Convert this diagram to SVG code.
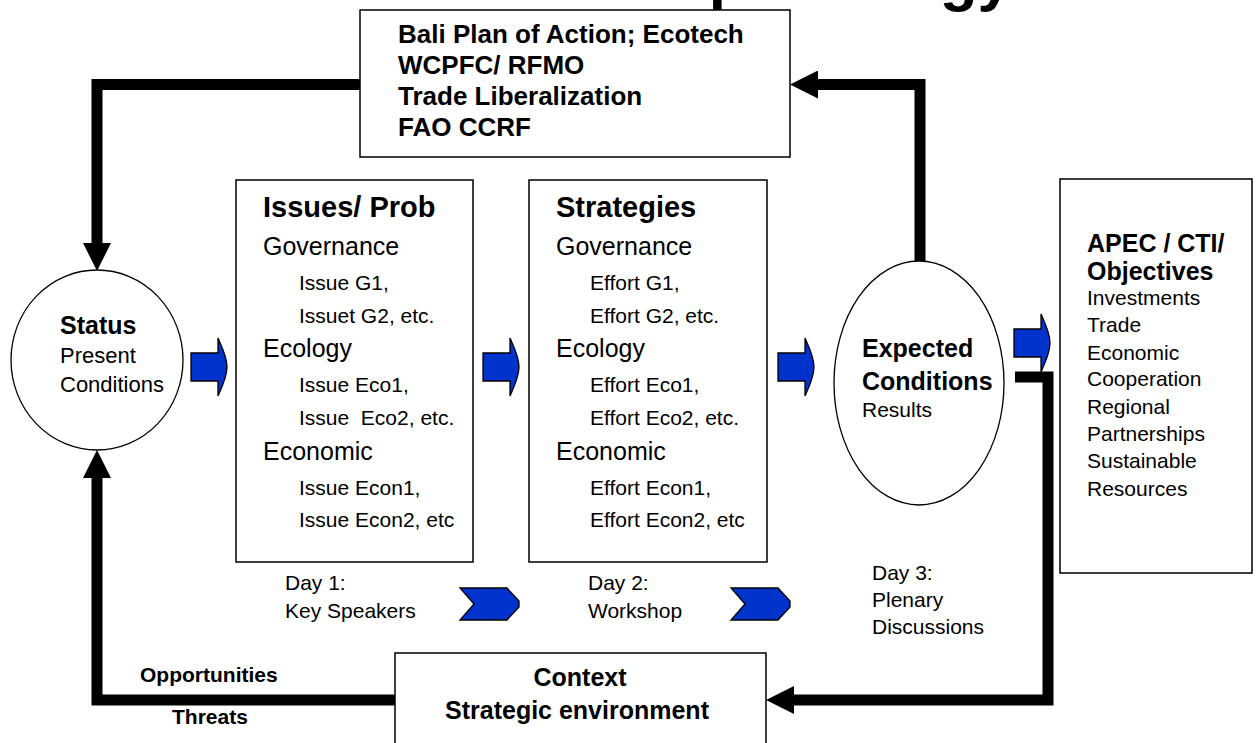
<svg xmlns="http://www.w3.org/2000/svg" width="1259" height="743" viewBox="0 0 1259 743">
  <style>
    text { font-family: "Liberation Sans", Arial, Helvetica, sans-serif; fill: #000; }
    .b { font-weight: bold; }
    .box { fill: #fff; stroke: #000; stroke-width: 1.5; }
    .oval { fill: #fff; stroke: #000; stroke-width: 1.3; }
    .flow { fill: none; stroke: #000; stroke-width: 11; stroke-linejoin: miter; stroke-linecap: butt; }
    .blue { fill: #0033cc; stroke: #000; stroke-width: 1.3; stroke-linejoin: miter; }
    .h1 { font-size: 29px; font-weight: bold; }
    .h2 { font-size: 25px; }
    .it { font-size: 21px; }
    .day { font-size: 21px; }
  </style>
  <defs>
    <marker id="head" viewBox="0 0 28 28" refX="0" refY="14" markerWidth="28" markerHeight="28" markerUnits="userSpaceOnUse" orient="auto">
      <path d="M0,0 L28,14 L0,28 Z" fill="#000"/>
    </marker>
    <!-- small block arrow, body from x=0, centred on y=0 -->
    <path id="blk" d="M0,-14 H27 V-29 C31,-20 36,-10 36,0 C36,10 31,20 27,29 V14 H0 Z"/>
    <!-- notched chevron used for the day sequence -->
    <path id="chev" d="M0,0 H47 L59,13 V19 L47,32 H0 L14,16 Z"/>
  </defs>

  <!-- title, clipped by the top edge -->
  <text class="b" x="1012" y="-1.5" font-size="62" text-anchor="end">Workshop Strategy</text>

  <!-- connectors -->
  <g id="connectors">
    <path class="flow" d="M360,84.5 H97 V243" marker-end="url(#head)"/>
    <path class="flow" d="M920,262 V84.5 H818" marker-end="url(#head)"/>
    <path class="flow" d="M395,700 H97 V478" marker-end="url(#head)"/>
    <path class="flow" d="M1015,377 H1048 V700 H794" marker-end="url(#head)"/>
    <use href="#blk" class="blue" x="191" y="367"/>
    <use href="#blk" class="blue" x="483" y="367"/>
    <use href="#blk" class="blue" x="778" y="367"/>
    <use href="#blk" class="blue" x="1014" y="343"/>
    <use href="#chev" class="blue" x="460" y="588"/>
    <use href="#chev" class="blue" x="731" y="588"/>
  </g>

  <g id="frameworks">
    <rect class="box" x="360" y="10" width="430" height="147"/>
    <text class="b" font-size="26" x="398" y="43">Bali Plan of Action; Ecotech</text>
    <text class="b" font-size="26" x="398" y="74">WCPFC/ RFMO</text>
    <text class="b" font-size="26" x="398" y="105">Trade Liberalization</text>
    <text class="b" font-size="26" x="398" y="136">FAO CCRF</text>
  </g>

  <g id="status">
    <ellipse class="oval" cx="97" cy="360" rx="86" ry="90"/>
    <text class="b" font-size="25" x="60" y="334">Status</text>
    <text font-size="22" x="60" y="363">Present</text>
    <text font-size="22" x="60" y="392">Conditions</text>
  </g>

  <g id="issues">
    <rect class="box" x="236" y="180" width="237" height="382"/>
    <text class="h1" x="263" y="217">Issues/ Prob</text>
    <text class="h2" x="263" y="255">Governance</text>
    <text class="it" x="299" y="290">Issue G1,</text>
    <text class="it" x="299" y="323">Issuet G2, etc.</text>
    <text class="h2" x="263" y="357">Ecology</text>
    <text class="it" x="299" y="392">Issue Eco1,</text>
    <text class="it" x="299" y="425" xml:space="preserve">Issue  Eco2, etc.</text>
    <text class="h2" x="263" y="460">Economic</text>
    <text class="it" x="299" y="495">Issue Econ1,</text>
    <text class="it" x="299" y="527">Issue Econ2, etc</text>
  </g>

  <g id="strategies">
    <rect class="box" x="529" y="180" width="238" height="382"/>
    <text class="h1" x="556" y="217">Strategies</text>
    <text class="h2" x="556" y="255">Governance</text>
    <text class="it" x="590" y="290">Effort G1,</text>
    <text class="it" x="590" y="323">Effort G2, etc.</text>
    <text class="h2" x="556" y="357">Ecology</text>
    <text class="it" x="590" y="392">Effort Eco1,</text>
    <text class="it" x="590" y="425">Effort Eco2, etc.</text>
    <text class="h2" x="556" y="460">Economic</text>
    <text class="it" x="590" y="495">Effort Econ1,</text>
    <text class="it" x="590" y="527">Effort Econ2, etc</text>
  </g>

  <g id="expected">
    <ellipse class="oval" cx="919" cy="383" rx="85" ry="122"/>
    <text class="b" font-size="25" x="862" y="357">Expected</text>
    <text class="b" font-size="25" x="862" y="390">Conditions</text>
    <text font-size="21" x="862" y="417">Results</text>
  </g>

  <g id="objectives">
    <rect class="box" x="1060" y="179" width="192" height="394"/>
    <text class="b" font-size="25" x="1087" y="252">APEC / CTI/</text>
    <text class="b" font-size="25" x="1087" y="280">Objectives</text>
    <text font-size="21" x="1087" y="305">Investments</text>
    <text font-size="21" x="1087" y="332">Trade</text>
    <text font-size="21" x="1087" y="360">Economic</text>
    <text font-size="21" x="1087" y="386">Cooperation</text>
    <text font-size="21" x="1087" y="414">Regional</text>
    <text font-size="21" x="1087" y="441">Partnerships</text>
    <text font-size="21" x="1087" y="468">Sustainable</text>
    <text font-size="21" x="1087" y="496">Resources</text>
  </g>

  <g id="days">
    <text class="day" x="285" y="590">Day 1:</text>
    <text class="day" x="285" y="618">Key Speakers</text>
    <text class="day" x="588" y="590">Day 2:</text>
    <text class="day" x="588" y="618">Workshop</text>
    <text class="day" x="872" y="580">Day 3:</text>
    <text class="day" x="872" y="607">Plenary</text>
    <text class="day" x="872" y="634">Discussions</text>
  </g>

  <g id="context">
    <rect class="box" x="395" y="653" width="371" height="100"/>
    <text class="b" font-size="25" x="580" y="686" text-anchor="middle">Context</text>
    <text class="b" font-size="25" x="577" y="719" text-anchor="middle">Strategic environment</text>
  </g>

  <g id="swot">
    <text class="b" font-size="21" x="140" y="682">Opportunities</text>
    <text class="b" font-size="21" x="172" y="724">Threats</text>
  </g>
</svg>
